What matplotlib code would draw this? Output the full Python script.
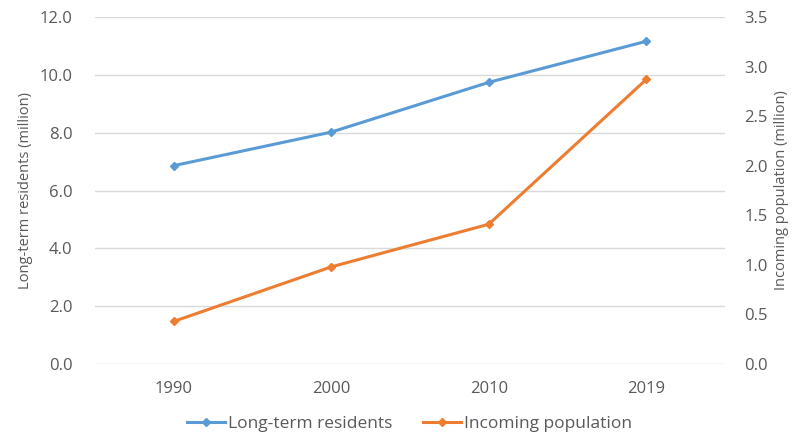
import matplotlib.pyplot as plt

years = ['1990', '2000', '2010', '2019']
long_term = [6.86, 8.02, 9.74, 11.16]
incoming = [0.43, 0.98, 1.41, 2.87]

blue = '#5B9BD5'
orange = '#ED7D31'
txt = '#595959'

plt.rcParams['font.family'] = ['Open Sans', 'DejaVu Sans']

fig = plt.figure(figsize=(7.98, 4.36), dpi=100)
ax = fig.add_axes([0.119, 0.165, 0.7895, 0.796])
ax2 = ax.twinx()

x = range(len(years))
ax.plot(x, long_term, color=blue, lw=2.2, marker='D', ms=4.5, label='Long-term residents', zorder=3)
ax2.plot(x, incoming, color=orange, lw=2.2, marker='D', ms=4.5, label='Incoming population', zorder=3)

ax.set_xlim(-0.5, 3.5)
ax.set_xticks(list(x))
ax.set_xticklabels(years)
ax.set_ylim(0, 12)
ax.set_yticks([0, 2, 4, 6, 8, 10, 12])
ax.set_yticklabels([f'{v:.1f}' for v in [0, 2, 4, 6, 8, 10, 12]])
ax2.set_ylim(0, 3.5)
ax2.set_yticks([0, 0.5, 1, 1.5, 2, 2.5, 3, 3.5])
ax2.set_yticklabels([f'{v:.1f}' for v in [0, 0.5, 1, 1.5, 2, 2.5, 3, 3.5]])

ax.grid(axis='y', color='#d9d9d9', lw=1)
ax.set_axisbelow(True)
for a in (ax, ax2):
    for s in a.spines.values():
        s.set_visible(False)
    a.tick_params(length=0, colors=txt, labelsize=12)
ax.tick_params(axis='y', pad=16)
ax2.tick_params(axis='y', pad=14)
ax.tick_params(axis='x', pad=12)

ax.set_ylabel('Long-term residents (million)', color=txt, fontsize=10.5, labelpad=5)
ax2.set_ylabel('Incoming population (million)', color=txt, fontsize=10.5, labelpad=4, rotation=90)

h1, l1 = ax.get_legend_handles_labels()
h2, l2 = ax2.get_legend_handles_labels()
fig.legend(h1 + h2, l1 + l2, loc='center', bbox_to_anchor=(0.513, 0.028), ncol=2,
           frameon=False, fontsize=12.5, labelcolor=txt, handlelength=2.2,
           handletextpad=0.15, columnspacing=1.8)

fig.savefig('out.png', dpi=100)
